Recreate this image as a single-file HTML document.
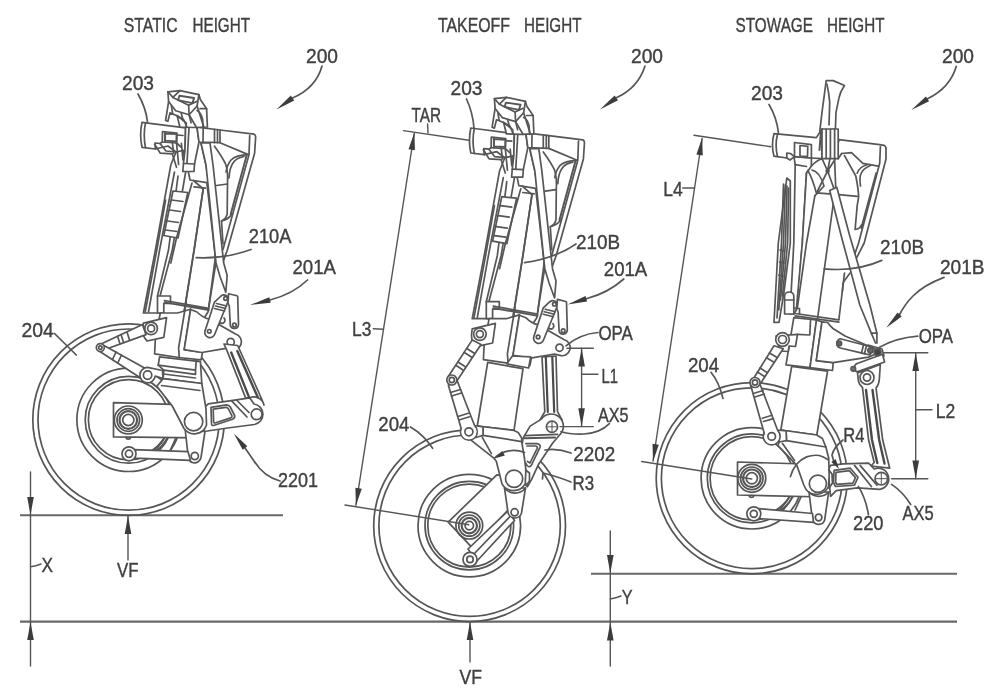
<!DOCTYPE html>
<html>
<head>
<meta charset="utf-8">
<title>Landing gear heights</title>
<style>
html,body{margin:0;padding:0;background:#fff;}
body{width:995px;height:696px;overflow:hidden;font-family:"Liberation Sans",sans-serif;}
svg{display:block;will-change:transform;opacity:0.999;}
text{font-family:"Liberation Sans",sans-serif;font-size:21px;fill:#404040;stroke:#404040;stroke-width:0.4;}
.l{fill:none;stroke:#565656;stroke-width:1.7;stroke-linecap:round;stroke-linejoin:round;}
.t{fill:none;stroke:#444;stroke-width:0.9;stroke-linecap:round;stroke-linejoin:round;}
.g{fill:none;stroke:#686868;stroke-width:2.1;}
.w{fill:#fff;stroke:#565656;stroke-width:1.7;stroke-linejoin:round;}
.a{fill:#3c3c3c;stroke:none;}
#dims.l{stroke-width:1.4;}
</style>
</head>
<body>
<svg width="995" height="696" viewBox="0 0 995 696">
<rect x="0" y="0" width="995" height="696" fill="#fff"/>
<defs>
<!-- Upper strut shared by STATIC and TAKEOFF views (coords in left-figure space) -->
<g id="U">
<!-- left slender arms -->
<path class="w" d="M170.8 165 L176 152 L183 150 L186 170 L172.3 250 L160.3 295 L160.3 313 L143.4 313 L155.4 250 Z"/>
<path class="l" d="M174.5 172 L159.6 250 L148.5 312"/>
<path class="l" d="M165.6 200 L156.8 250 L145.2 312"/>
<path class="l" d="M224.3 167.5 Q226.8 176 226.4 186" style="stroke-width:2.4;stroke:#555"/>
<path class="l" d="M178 176 L168.5 250 L157.5 296"/>
<!-- main cylinder body -->
<path class="w" d="M193.4 180.5 L206.8 182.6 L216 262 L208 312 L184 349 L178 349 L194.1 250 L203.2 189 Z"/>
<path class="l" d="M194 186.8 L205.4 188.2"/>
<path class="l" d="M203.2 189 L194.1 250 L178.6 348"/>
<path class="l" d="M190.6 309.2 L184.2 348"/>
<path class="l" d="M215.2 258.5 L208.9 306.3"/>
<!-- ladder / rack -->
<path class="w" d="M173 191 L187.8 192.5 L178 238 L163.8 235.5 Z"/>
<path class="l" d="M171.5 200 L183 201.5 M169.5 210 L180.5 211.5 M167.5 221 L178.5 222.5 M165.5 230 L177 231.5"/>
<path class="l" d="M192 183 L176.5 238 L170.8 263"/>
<path class="l" d="M188 170 L190 180 L193.4 180.5"/>
<!-- triangular side brace -->
<path class="w" d="M220 130 L254 134.2 Q256 135 255.6 138 L254.6 153.2 L227.5 249.5 L223 262 L216 262 L210 190 L206 165 L201 143 Z"/>
<path class="l" d="M249.7 135.5 L249 154.6 L223 249.5"/>
<path class="l" d="M246.5 156 L230.7 214.3" style="stroke-width:2"/>
<path class="l" d="M220 142.7 L248.3 154.6"/>
<path class="l" d="M214.5 146.2 Q223 158 225.8 164.5 Q228.2 172 227.5 184 L227.2 214 Q226 219 221.5 221"/>
<path class="l" d="M248.3 154.6 Q236 155 231 160 Q227 165 226 172"/>
<path class="l" d="M244 156.5 Q236 158 233 163 Q229.5 168 229 178"/>
<path class="l" d="M231.5 214.5 Q229 219 221.5 221 L223 244"/>
<path class="l" d="M227.3 184 L216.5 185.5"/>
<!-- rod 210 -->
<path class="w" d="M201 143 L210 143 L213 165 L223.7 263 L227.2 275.4 L225.8 292.3 L220.1 276.8 L216 263 L206 165 Z"/>
<!-- cylinder 203 -->
<path class="w" d="M142 122.3 L185.6 127.9 L185 150 L176 152 L168 146 L155.4 149 L142 147.3 Q139.3 135 142 122.3 Z"/>
<path class="l" d="M145.5 122.8 Q143 135 145.5 147.7"/>
<path class="l" d="M155.4 149 L155 143 L160 143.5 L166 151 L176 152"/>
<path class="l" d="M162.5 131.5 L162.3 142 L176.5 143 L177 133 Z"/>
<path class="l" d="M165 132 L165 142 M177 135 L183 135.5 M176.5 143 L181 147"/>
<path class="l" d="M160 143.5 L162.3 142"/>
<path class="l" d="M154.6 144.1 L160.3 153.2 L172.3 153.9 L176.5 167.3 M172.3 142 L173.7 153.2 M176.5 142.7 L178.6 164.5 M181.4 143.4 L183 160"/>
<path class="l" d="M165.2 133.5 L176.5 134.2 L176.5 141.3 L165.2 140.6 Z" style="stroke-width:1.8"/>
<!-- lug -->
<path class="w" d="M185.6 127 L197 127.2 L199 142 L194.5 164 L194 171.5 L182.8 171.5 L183.5 163 L185 150 Z"/>
<path class="l" d="M183.5 163.5 L194.5 164"/>
<path class="l" d="M189 128 L187 163"/>
<!-- pin -->
<path class="w" d="M197 127.2 L220 130 L220 142.7 L199 142 Z"/>
<path class="l" d="M203.2 128 L203 142 M214.5 129.3 L214.5 142.5 M217.5 129.7 L217.5 142.6"/>
<!-- cross rod and block -->
<path class="w" d="M157.5 296 L170.5 296 L170.5 303.5 L163.8 303.5 L163.8 313 L157.5 313 Z"/>
<path class="l" d="M164.5 300.5 L208.9 308.3 M164.5 302.4 L208.9 310.2"/>
<!-- housing -->
<path class="w" d="M160.3 313 L177.5 313 L190.6 309.2 L184.2 349.7 L202.5 352.4 L201.1 359.8 L178.8 357.5 L154.6 353.9 L155.4 338.5 Z"/>
<path class="l" d="M186.2 302 L178.6 348 L179.3 357.5"/>
<!-- torque link bracket -->
<path class="w" d="M143.4 323.2 L166.6 317.6 L163.8 337.3 L147 341 Q141 336 143.4 323.2 Z"/>
<circle class="w" cx="151.1" cy="328.4" r="6.3"/><circle class="l" cx="151.1" cy="328.4" r="3.5"/>
<!-- bracket w/ OPA pivot -->
<path class="w" d="M190.6 309.5 L197 312 Q203 318 209 319 L221.5 326 L235.5 334 A7.7 7.7 0 0 1 231 349.7 L225.8 348.3 L201.8 352.5 L184.2 349.7 Z"/>
<circle class="l" cx="230.7" cy="342" r="3.6"/>
<!-- link A (201) -->
<path class="w" d="M214.5 302.1 L221 296 A5 5 0 0 1 229 300 L227.2 303.5 L214.8 334 A4.6 4.6 0 0 1 205 331 Z"/>
<path class="l" d="M216.5 303.5 L226.5 306 M215.5 306 L225.5 308.5 M214.5 308.5 L224.5 311"/>
<circle class="l" cx="209.3" cy="331.3" r="1.8"/>
<circle class="l" cx="225.6" cy="298.5" r="1.8"/>
<!-- link B -->
<path class="w" d="M228.6 293.7 L237 295.8 L237.7 296.5 L238.5 324.6 A4.2 4.2 0 0 1 230.3 325.5 L229.3 306.3 L228 303 Z"/>
<circle class="l" cx="234.4" cy="325" r="1.8"/>
<path class="l" d="M224 318 A3 3 0 1 1 220 322.5"/>
</g>
<g id="UT">
<!-- top bracket -->
<path class="w" d="M167.3 91.3 L179.3 90.1 L198.3 94.1 L199.7 99 L206 108.2 L206.8 126.5 L193 127 L179.3 126.5 L176.5 115.2 L169.4 112.4 L167.3 120.8 L165 120 L168 101.1 Z"/>
<path class="l" d="M167.3 91.3 L172.3 96.9 L188 104.8 L196 101"/>
<path class="l" d="M168 101.1 L175.1 110.3 L188.5 114.3 L196.5 105.5 L198.3 94.1"/>
<path class="l" d="M172.3 96.9 L179.3 90.1 M188 104.8 L188.5 114.3 L190.5 122.3"/>
<path class="l" d="M178.8 95.3 L193.5 97.5 L191.8 102.6 L177.5 99.6 Z" style="stroke-width:1.9"/>
<path class="l" d="M176.5 115.2 L183 119 L186 126"/>
<path class="l" d="M196.5 110 Q200.5 112 202 119 L202.5 127"/>
<path class="l" d="M176.5 115.2 L185.6 122.3 L185.6 126.5 M188.5 114.3 L196 127.2 M199.5 108.2 L206 108.2 M196.5 105.5 L203.2 126.5"/>
<path class="l" d="M170.8 105.4 L172 112.8 M180.5 112.3 L182.5 120"/>
</g>
</defs>
<g id="all">



<!-- ===== GROUND LINES ===== -->
<g class="g">
<line x1="20" y1="515.3" x2="283" y2="515.3"/>
<line x1="20" y1="621.6" x2="957" y2="621.6"/>
<line x1="591" y1="573.8" x2="957" y2="573.8"/>
</g>

<!-- ===== WHEELS ===== -->
<g id="wheels" class="l">
<!-- left -->
<circle cx="128.6" cy="419.6" r="95.8"/><circle cx="128.6" cy="419.6" r="90.6"/>
<!-- middle -->
<circle cx="469.6" cy="525.7" r="95.9"/><circle cx="469.6" cy="525.7" r="90.7"/>
<!-- right -->
<circle cx="751.8" cy="478.2" r="95.6"/><circle cx="751.8" cy="478.2" r="90.4"/>
</g>

<!-- ===== LEFT FIGURE ===== -->
<use href="#U"/>
<use href="#UT" transform="translate(0.6 0.5)"/>
<g id="figL" class="l">
<!-- rim -->
<circle cx="128.6" cy="419.8" r="51.7"/><circle cx="128.6" cy="419.8" r="43.4"/><circle cx="128.6" cy="419.8" r="40.2"/>
<!-- hoses -->
<path d="M165 437 Q158 447 151 451 M168 437 Q161 449 153 453 M176 437.5 L170 451"/>
<!-- trailing arm -->
<path class="w" d="M113.5 402.7 L180 404.7 L200 437.8 L113.5 436.9 Z"/>
<circle cx="128.3" cy="420" r="14"/><circle cx="128.3" cy="420" r="11.3"/><circle cx="128.3" cy="420" r="8.8" style="stroke-width:2.2"/><circle cx="128.3" cy="420" r="5.6"/>
<path d="M125.8 437.2 A2.6 2.6 0 0 0 130.8 437.2"/>
<!-- lower lug -->
<path class="w" d="M185 428 L188 455 A6.6 6.6 0 0 0 201 457.5 L205.5 428 Z"/>
<!-- brake rod -->
<path class="w" d="M134 449.6 L188 451.7 L190.5 460.3 L134.5 458.2 Z"/>
<circle class="w" cx="129" cy="453.8" r="7"/><circle cx="129" cy="453.8" r="3.6"/>
<circle cx="194.8" cy="456" r="3.6"/>
<!-- crank 2201 -->
<path class="w" d="M203 409 L208.2 403.8 L231.4 400.6 L249.7 397.8 L254 404 A10.4 10.4 0 0 1 254.5 424.5 L227.5 428 L204 431.5 Z"/>
<path d="M211 407.3 L226.5 404.9 Q229 405 230.3 407 L234.6 415.5 Q235.3 418 232.5 419.3 L213.5 425.5 Q211.5 425.6 211.5 423.5 Z"/>
<path d="M213.2 409.2 L225.8 407.3 Q227.5 407.2 228.4 408.8 L232 415.8 Q232.3 417.3 230.7 417.9 L215 423 Q213.6 423.1 213.6 421.6 Z"/>
<path d="M231.4 400.6 L247 417 M236.5 400 L249 412.5"/>
<!-- pushrod -->
<path class="w" d="M227.2 351.1 L224 344 L237.7 345.5 L261.7 399 L264 405 A10.4 10.4 0 0 0 249.7 397.8 L245.5 397.6 Z"/>
<path d="M231.2 352.5 L249.2 397.6 M237.3 351 L257.8 397.3" style="stroke-width:2.4;stroke:#4a4a4a"/>
<circle class="w" cx="256.6" cy="414.3" r="5.4"/>
<!-- collars -->
<path class="w" d="M159.6 356.8 L200.4 361.7 L201.8 383.5 L163.1 378.6 L163.8 370.1 L158.2 365.2 Z"/>
<path d="M158.2 365.2 L195.5 370.1 L196.2 361.7 M163.8 370.1 L195.5 374.3 L195.5 370.1 M163.4 374 L195.5 378"/>
<!-- fork -->
<path class="w" d="M163.1 378.6 L156.8 386.3 L172.3 406 L184 428.5 A12.8 12.8 0 0 0 206.5 425 L206 408.9 L201.8 383.5 Z"/>
<path d="M161.5 385.5 L200 390.5"/>
<circle class="w" cx="193.6" cy="421.6" r="9.2"/>
<!-- torque link -->
<path class="w" d="M100.5 344.2 L142.5 324.6 L146 334.6 L103 350.3 Z"/>
<path d="M117.5 336.3 L120 343.8 M121 334.6 L123.6 342.4 M127 332 L129.6 340.2"/>
<path class="w" d="M104 345.5 L145 368.2 L141 378.3 L99.5 351.2 Z"/>
<path d="M116 352 L112.5 359.5 M121.5 355 L117.8 363"/>
<circle class="w" cx="100.3" cy="347.6" r="4"/><circle cx="100.3" cy="347.6" r="1.7"/>
<path class="w" d="M147.6 367.4 A7.7 7.7 0 1 0 155.2 376 L163 378.6 L162.5 370.5 Z"/>
<circle cx="147.6" cy="375.1" r="4.2"/>
<!-- leaders -->
<path d="M138 94 Q146 108 147.5 122"/>
<path d="M251 249.5 Q225 259 196.2 257.7"/>
<path d="M54.5 333.5 L76.3 355"/>
<path d="M322 66 Q316 88 292.5 98"/>
<path d="M307.5 280 Q293 294 270 300"/>
<path d="M280 481 Q264 477 254 461 L245 448"/>
</g>

<!-- ===== MIDDLE FIGURE ===== -->
<use href="#U" transform="translate(328.8 5.7)"/>
<use href="#UT" transform="translate(327.1 7.3)"/>
<g id="figM" class="l">
<!-- rim -->
<circle cx="469.3" cy="525.6" r="51.3"/><circle cx="469.3" cy="525.6" r="44.3"/><circle cx="469.3" cy="525.6" r="41.5"/>
<!-- trailing arm -->
<path class="w" d="M496.8 474.9 L448.2 522.1 L471.4 546.8 L479.9 540.4 L522 495 L520 478 Z"/>
<circle cx="469.3" cy="525.6" r="13.4"/><circle cx="469.3" cy="525.6" r="10.6"/><circle cx="469.3" cy="525.6" r="7.7" style="stroke-width:2.2"/><circle cx="469.3" cy="525.6" r="4.2"/>
<!-- brake rod -->
<path class="w" d="M508 510.8 L468 549 L476.5 561.5 L514.5 520.5 Z"/>
<path d="M511 515.5 L472.5 555.5"/>
<circle class="w" cx="470" cy="559.4" r="7"/><circle cx="470" cy="559.4" r="3.2"/>
<!-- lug -->
<path class="w" d="M504.5 488 L507.8 511 A7 7 0 0 0 521.5 513 L525.5 488 Z"/>
<circle cx="514.6" cy="512.3" r="3.6"/>
<!-- pushrod -->
<path class="w" d="M542 356.8 L556 356 L557.5 411.7 L562 420 L540 420 L544.8 411.7 Z"/>
<path d="M545.8 357 L547.8 412 M552.3 357 L554.2 412" style="stroke-width:2.2;stroke:#4a4a4a"/>
<!-- crank 2202 -->
<path class="w" d="M523.1 438.1 L530.1 426.1 L541.4 419.1 A10.6 10.6 0 0 1 561.1 433.2 L552.7 443 L538.6 464.2 L531.5 479.6 L527.3 486.7 L518 470 Z"/>
<path d="M524.5 435.7 L557.6 434.3"/><path d="M524.5 438.3 L555 437.6" style="stroke-width:2"/>
<path d="M525.9 443.7 L537.2 443.7 Q541 444.5 540 447.3 L531.5 465 Q529.5 468 527 465.5 L525.5 463"/>
<path d="M527 446 L535.8 446 Q537.8 446.4 537.2 448.3 L530 463 L527.5 461.5"/>
<circle class="w" cx="552" cy="426.8" r="5.6"/><path class="t" d="M547.5 426.8 L556.5 426.8 M552 422.3 L552 431.3"/>
<!-- piston -->
<path class="w" d="M487.7 362.4 L523 368.7 L514 430.4 L477.3 426 Z"/>
<path class="w" d="M506.8 363.8 L528.6 368 L530.7 356.8 L512.4 356 Z"/>
<!-- collar + fork -->
<path class="w" d="M477.3 426 L514 430.4 L518.2 432.5 L521.7 438 L521.7 441.6 L524.5 458.5 L525.9 469.8 L525.2 483.9 A13.4 13.4 0 0 1 502 483.9 L496.3 461.3 L493.5 457.8 L471 440.2 L476 436 Z"/>
<path d="M483 435.3 L521.7 441.6 M483 427 L483 435.3 L476 436"/>
<path d="M482.3 437.4 L491.4 453.6"/>
<path d="M494.5 458 A28.5 28.5 0 0 1 524.5 452.5"/>
<circle class="w" cx="514.1" cy="478.7" r="8.6"/>
<path d="M504.5 488 A13.4 13.4 0 0 0 525.5 488"/>
<path d="M525.5 470 L529.5 473 L529.5 481 L526 485.5"/>
<!-- torque link -->
<path class="w" d="M472.3 339.9 L448.3 376.5 L456.5 381.5 L481 344.5 Z"/>
<path d="M466.8 348.5 L474.3 353.3 M464.3 352.5 L471.8 357.3 M458 362 L465.3 366.8 M455.8 365.3 L463 370"/>
<path class="w" d="M474 425.5 L483 427 L483 435.3 L476 437.5 Z"/>
<circle class="w" cx="468.9" cy="431.8" r="8.4"/>
<path class="w" d="M448.3 385 L461.8 430.5 L475.3 427.5 L457.5 381.5 Z"/>
<circle cx="468.9" cy="431.8" r="7.5" style="fill:#fff;stroke:none"/>
<path d="M450.5 392.5 L460.5 389.5 M451.5 396 L461.5 393 M458 416.5 L468.3 413.3 M459 420 L469.5 416.8"/>
<circle class="w" cx="451.8" cy="380" r="5"/><circle cx="451.8" cy="380" r="2.6"/>

<circle cx="468.9" cy="431.8" r="4"/>
<!-- leaders -->
<path d="M466.5 99 Q473 113 474 128.5"/>
<path d="M576 244 Q556 258 524.5 262.7"/>
<path d="M410.5 427 Q424 435 432.6 448.3"/>
<path d="M645 66 Q638 88 616.3 97.8"/>
<path d="M623.8 279 Q608 293 586.3 298.8"/>
<path d="M598 332.5 Q580 334 566 345.8"/>
<path d="M609.4 423.6 Q600 433 584 434 Q570 434.5 561 431.7"/>
<path d="M571 453 Q558 448 545 450"/>
<path d="M571 482 Q556 476 543 473 L542.5 479"/>
</g>

<!-- ===== RIGHT FIGURE ===== -->
<g id="figR" class="l">
<!-- rim -->
<circle cx="751.8" cy="478.3" r="50.7"/><circle cx="751.8" cy="478.3" r="44.5"/><circle cx="751.8" cy="478.3" r="41.7"/>
<!-- hoses -->
<path d="M790 496.5 Q783 506 776 510 M793 496.5 Q786 508 778 512 M801 497 L795 510"/>
<!-- trailing arm -->
<path class="w" d="M737.5 462 L805 464 L825 497 L737.5 495 Z"/>
<circle cx="751.8" cy="478.3" r="14"/><circle cx="751.8" cy="478.3" r="11.3"/><circle cx="751.8" cy="478.3" r="8.8" style="stroke-width:2.2"/><circle cx="751.8" cy="478.3" r="5.6"/>
<path d="M749 495.5 A2.6 2.6 0 0 0 754 495.5"/>
<!-- lug -->
<path class="w" d="M809 492 L812.3 518.9 A6.4 6.4 0 0 0 824.6 520.3 L828.7 492 Z"/>
<!-- brake rod -->
<path class="w" d="M759 508.7 L812.5 513.5 L813.5 522.3 L759.5 518.6 Z"/>
<circle class="w" cx="753.8" cy="513.8" r="7"/><circle cx="753.8" cy="513.8" r="3.5"/>
<circle cx="818.6" cy="517.5" r="3.3"/>
<!-- ===== upper strut (stowage) ===== -->
<!-- edge-on ladder -->
<path class="w" d="M786.8 178 L790.3 181 L790.3 243 L784 292 L779 322.3 L774 322.3 L778.3 243 Z"/>
<path d="M783.5 184 L781.5 243 L777 318 M787 186 L785.5 243 L780.5 300"/>
<path d="M780 250 L784.5 251 M779.5 262 L784 263 M778.8 275 L783.3 276"/>
<path d="M785.3 185 L783.5 243 L778.8 310 M788.6 188 L787.6 243 L782.5 296"/>
<circle cx="827.6" cy="171" r="2.2" style="fill:#444;stroke:none"/>
<!-- left leg -->
<path class="w" d="M794 156.6 L811.4 158 L811.4 166 L806.5 173.2 L802.3 243 L797.3 308.2 L793.8 314 L790 314 L793.8 243 L795.2 164.7 Z"/>
<path d="M795.2 164.7 L806.5 166.5"/>
<!-- main cylinder -->
<path d="M806.5 173.2 L807.9 170.4 Q813 180 816.3 192.9 L836 194.3 L848 235 L877 333 L838.9 319.8 L810 367.7 L797.3 308.2 Z" style="fill:#fff;stroke:none"/>
<path d="M806.5 173.2 L807.9 170.4 Q813 180 816.3 192.9 L836 194.3"/>
<path d="M814.9 195.7 L806.5 243 L797.3 308.2"/>
<path d="M806.5 173.2 L802.3 243 L796.3 310"/>
<path d="M817.7 192.9 L814.9 195.7 M834.3 196 L829 235 L815.6 333"/>
<path d="M844.5 273 L838.9 319.5"/>
<path d="M850.1 273 Q844 281 843.1 283 L842.4 291.3"/>
<!-- brace -->
<path class="w" d="M838.9 139.7 L879.7 144.6 L884 145.3 Q886.3 146.3 886 150 L886 159 L864.2 243 L856.5 258 L850 258 L836 194.3 L834.6 160 Z"/>
<path d="M880.4 146.5 L879.7 163.3 L858.6 243 L854.5 255"/>
<path d="M876.2 173.2 L861.4 228.1" style="stroke-width:2"/>
<path d="M841.7 153.5 L851.5 152.7 L862.8 163.3 L878.3 166.1"/>
<path d="M844.5 155.6 L855.8 176 Q858.6 190 858.6 197.1 L857.2 205.6 L855.1 229.5 Q860 229 861.4 225"/>
<path d="M867 164.7 Q859 167 857.2 173.2 M870.5 165.5 Q862 168.5 860.2 176 Q859.5 180 860.5 186"/>
<path d="M836 194.3 L857.2 196.4"/>
<path d="M838.2 158.7 L841.7 153.5 M827.6 171 L836 194.3 M827.6 171 L817 192 M827.6 171 L834.6 160 M827.6 171 L822 158.7 M827.6 171 L830 158.7"/>
<path d="M811.4 166 Q817 160 822 158.7 M812 170 Q820 172 824 186 L817.7 192.9"/>
<!-- rod 210B -->
<path class="w" d="M829.7 190.5 L836.8 187.3 L849.5 235 L869.9 305 L876.9 333.2 L876.9 343 L875.5 343 L871.3 333.2 L859.8 305 L841 235 Z"/>
<path d="M871.3 333.2 L876.9 333.2"/>
<!-- blade -->
<path class="w" d="M826.2 80.6 L833.2 80.6 L844.5 85.5 Q840 92 838.9 98.2 L836 112.3 L835.4 129 L819.8 131 L822 112.3 Z"/>
<path d="M826.9 84 Q829 93 829.7 102.4 L829 124.9"/>
<!-- cylinder 203 -->
<path class="w" d="M774 133.7 L816.3 137.6 L822 129 L822 158.7 L811.4 158 L794.5 156.6 L790 160 L786.8 158 L774 156.2 Q771 145 774 133.7 Z"/>
<path d="M777.5 134.2 Q774.7 145 777.5 156.6"/>
<path d="M794.5 142.5 L811.4 144.6 L811.4 158 M794.5 142.5 L794.5 156.6 M800 145.5 L800 156 L807.5 156.5 L807.8 146.3 Z"/>
<path d="M786.8 158 L786.8 153 L790.5 153.5 L794.5 156.6"/>
<!-- lug -->
<path class="w" d="M822 129 L838.2 129 L838.2 158.7 L822 158.7 Z"/>
<path d="M826.2 129.5 L826.2 158.5 M830.4 129.5 L830.4 158.5 M834.6 129.5 L834.6 158.5"/>
<path d="M821 131 L819.5 150" style="stroke-width:2"/>
<!-- small bracket + cross rod -->
<path class="w" d="M784.6 314 L784.6 296 Q785 292 789 292 Q793.5 292 793.8 296 L793.8 314 Z"/>
<path d="M784.6 300 L793.8 300"/>
<path d="M795.2 313.5 L838.9 319.8 M795.2 315.8 L838.9 322.1"/>
<path d="M794 308 L799.5 308.5 L799.5 313.5"/>
<!-- housing -->
<path class="w" d="M793.8 317.7 L816.5 320 L810 367.7 L786 364.9 Z"/>
<path class="w" d="M816.5 320 L822 321.9 L816.3 360.6 L833.2 362.7 L832.5 370.5 L810 367.7 Z"/>
<path d="M810.5 320.5 L809.8 335 L797.5 334.3"/>
<!-- torque bracket -->
<path class="w" d="M776 336 L797.5 334.3 L795.5 346.5 L789 346 L788.3 351.5 L780 351 Z"/>
<!-- bracket (OPA) -->
<path class="w" d="M822 321.9 L827.6 322.5 Q830 326 833 328.5 L845 336 L858 341.5 L873 348 L880.5 352 L868.5 357.1 L855.8 359.2 L833.2 362.7 L816.3 360.6 Z"/>
<!-- link A -->
<path class="w" d="M840.3 338.8 L867 345.8 L873 347.5 L870 355 L864.2 353.6 L840.3 348 A4.8 4.8 0 0 1 840.3 338.8 Z"/>
<circle cx="839.3" cy="343.5" r="2.3" style="fill:#666"/>
<path d="M863.5 345 L861.5 353 M866.5 345.7 L864.5 353.7" />
<!-- link B -->
<path class="w" d="M857.2 363.5 L882.5 354.3 L884.6 362 L857.2 371.9 A4.5 4.5 0 0 1 857.2 363.5 Z"/>
<circle cx="853.3" cy="368.8" r="2.3" style="fill:#777"/>
<circle cx="877.6" cy="352.2" r="3.4" style="fill:#444"/>
<circle cx="870.5" cy="350.5" r="2.6" style="fill:#666"/>
<path d="M868 345 L882 349 L884 356"/>
<!-- pushrod -->
<path class="w" d="M857.5 373 L858.5 381.5 Q859.5 385 862.5 387.5 L868.6 440 L874.2 462.5 L871 466 L889.7 468.2 L882.7 440 L876 388 Q878.8 385 879.3 379.5 L880.3 364.5 Z"/>
<path d="M866 390 L872 440 L877.3 463 M872.5 390 L879.2 440 L884.5 463.5" style="stroke-width:2.4;stroke:#4a4a4a"/>
<circle cx="867" cy="377.5" r="7"/><circle cx="867" cy="377.5" r="3.6"/>
<!-- crank 220 -->
<path class="w" d="M828 470 L830.6 465.4 L843.2 463.9 L868.6 463.2 L874.2 469 A10.6 10.6 0 1 1 879.9 489.3 L857.3 487.9 L836.2 490.7 L830.6 496.3 Z"/>
<path d="M834.1 470.3 L850.3 468.2 L858 477.3 L854.5 485.1 L835.5 486.5 L833.4 482.3 Z"/>
<path d="M836 472.3 L849.3 470.6 L855.4 477.6 L853 483.1 L836.8 484.3 L835.6 482 Z"/>
<path d="M854.5 465.4 L871.4 486.5 M860.1 465.4 L877 485.1"/>
<circle class="w" cx="881.3" cy="478.7" r="6.3"/><path class="t" d="M876 478.7 L886.6 478.7 M881.3 473.4 L881.3 484"/>
<!-- piston -->
<path class="w" d="M791.7 366.3 L827.6 371.2 L816.8 435 L780.8 430 Z"/>
<!-- collar + fork -->
<path class="w" d="M780.8 430 L816.8 435 L822.4 438.5 L825.9 447 L828.7 458.2 L829.2 475.2 L828.5 486.5 A13.4 13.4 0 0 1 806 489.5 L803.8 485 L796.8 465.4 L778 445.6 L780 439 Z"/>
<path d="M786.5 440.6 L825.9 447 M786.1 431 L786.5 440.6 L780 439"/>
<path d="M782.5 443.5 L794.5 460.5"/>
<path d="M790.4 476.6 Q792 470 796.8 464 Q801 459.3 806.6 456.9 Q813 454.6 819.3 455.5 Q823 456.5 827.8 459.5"/>
<circle class="w" cx="817.9" cy="483.7" r="8.6"/>
<path d="M809 492 A13.4 13.4 0 0 0 828.7 492"/>
<path d="M828.8 470 L832 474 L832.5 483 L829 488" style="stroke-width:1.8"/>
<!-- torque link -->
<path class="w" d="M774 345.8 L752 381 L759.5 385 L783.2 348.7 Z"/>
<path d="M769.5 353 L777 357.5 M766.5 357.8 L774 362.3 M760 368 L767 372.5 M757.5 372 L764.5 376.5"/>
<path class="w" d="M777 430 L786.1 431 L786.5 440.6 L779 442 Z"/>
<circle class="w" cx="771.7" cy="436.4" r="8.4"/>
<path class="w" d="M750.6 385 L764.6 434.5 L778.3 432 L759.7 383.5 Z"/>
<circle cx="771.7" cy="436.4" r="7.5" style="fill:#fff;stroke:none"/>
<path d="M753.5 393.5 L763 390.5 M754.8 397 L764.3 394 M762.3 418.3 L772 415.3 M763.5 421.5 L773.3 418.6"/>
<circle class="w" cx="755" cy="382.5" r="5"/><circle cx="755" cy="382.5" r="2.6"/>

<circle cx="771.7" cy="436.4" r="3.8"/>
<circle class="w" cx="782.5" cy="339.5" r="6.8"/><circle cx="782.5" cy="339.5" r="4"/>
<!-- leaders -->
<path d="M769 104.5 Q777 118 778.5 133.5"/>
<path d="M881.8 260.4 Q856 272 824.1 268.8"/>
<path d="M711 372.3 Q719 382 723 398.5"/>
<path d="M956.3 66.3 Q950 88 927.5 98.8"/>
<path d="M944 277.4 Q924 285 913 296 Q905 304 899.6 314.5"/>
<path d="M917.7 336.2 Q896 338 879.5 347.3"/>
<path d="M910.7 504.5 Q903 492 891.6 484.4"/>
<path d="M868.4 514.6 Q866 499 858.4 486.4"/>
<path d="M843 440 Q834 447 832 455 L833.5 460.5"/>
</g>

<!-- ===== DIMENSIONS ===== -->
<g id="dims" class="l">
<!-- X -->
<line x1="30.5" y1="472" x2="30.5" y2="666"/>
<path d="M30.5 566.7 Q36 566 41 564"/>
<!-- VF left -->
<line x1="128" y1="516" x2="128" y2="560"/>
<!-- VF middle -->
<line x1="470" y1="622" x2="470" y2="662"/>
<!-- Y -->
<line x1="610.3" y1="531" x2="610.3" y2="666"/>
<path d="M610.3 599 Q616 598 621 596"/>
<!-- L3 -->
<line x1="403.4" y1="130.6" x2="468.8" y2="140.2"/>
<line x1="414.3" y1="133" x2="355.9" y2="505.2"/>
<line x1="345" y1="505" x2="468.8" y2="524.7"/>
<path d="M427.6 124 L428 133"/>
<path d="M373.3 328.7 L383.3 329.2"/>
<!-- L1 -->
<line x1="581.6" y1="348.2" x2="581.6" y2="426.6"/>
<line x1="567" y1="348.2" x2="593.3" y2="348.2"/>
<line x1="560" y1="426.6" x2="593.3" y2="426.6"/>
<line x1="581.6" y1="374.3" x2="598" y2="374.3"/>
<!-- L4 -->
<line x1="694" y1="135.2" x2="770.8" y2="146.7"/>
<line x1="702.1" y1="138.5" x2="653" y2="461"/>
<line x1="641.7" y1="461.5" x2="751.8" y2="479"/>
<line x1="682.7" y1="188" x2="694" y2="188"/>
<!-- L2 -->
<line x1="915.7" y1="352.7" x2="915.7" y2="478.8"/>
<line x1="883.5" y1="352.7" x2="927.8" y2="352.7"/>
<line x1="891.6" y1="478.8" x2="927.8" y2="478.8"/>
<line x1="915.7" y1="409.7" x2="932" y2="409.7"/>
</g>
<g id="arrows" class="a">
<!-- X arrows -->
<path d="M30.5 515 L27.2 497 L33.8 497 Z"/>
<path d="M30.5 622 L27.2 640 L33.8 640 Z"/>
<!-- VF arrows -->
<path d="M128 516 L124.7 534 L131.3 534 Z"/>
<path d="M470 622 L466.7 640 L473.3 640 Z"/>
<!-- Y arrows -->
<path d="M610.3 573.5 L607 555 L613.6 555 Z"/>
<path d="M610.3 622 L607 640.5 L613.6 640.5 Z"/>
<!-- L1 arrows -->
<path d="M581.6 348.2 L578.3 366.5 L584.9 366.5 Z"/>
<path d="M581.6 426.6 L578.3 408.3 L584.9 408.3 Z"/>
<!-- L2 arrows -->
<path d="M915.7 352.7 L912.4 371 L919 371 Z"/>
<path d="M915.7 478.8 L912.4 460.5 L919 460.5 Z"/>
<!-- L3 arrows -->
<path d="M414.4 132.4 L408.5 149.2 L414.9 150.2 Z"/>
<path d="M355.9 505.6 L361.8 488.8 L355.4 487.8 Z"/>
<!-- L4 arrows -->
<path d="M702.2 137.8 L696.4 154.6 L702.7 155.6 Z"/>
<path d="M653.0 461.5 L658.8 444.7 L652.5 443.7 Z"/>
<!-- leader arrows -->
<path d="M276.5 109.5 L294.2 100.4 L290.8 95.6 Z"/>
<path d="M600.0 109.5 L618.0 100.2 L614.6 95.4 Z"/>
<path d="M911.3 110.0 L929.1 101.2 L925.9 96.4 Z"/>
<path d="M250.0 305.0 L270.7 302.8 L269.3 297.2 Z"/>
<path d="M567.5 304.5 L587.1 301.6 L585.5 296.0 Z"/>
<path d="M886.3 327.8 L901.7 316.6 L897.5 312.4 Z"/>
<path d="M233.8 433.5 L242.7 449.8 L247.3 446.2 Z"/>
<path d="M495.3 458.3 L504.9 455.4 L502.1 451.0 Z"/>
<path d="M839.0 469.0 L835.7 459.1 L831.3 461.9 Z"/>
</g>

<!-- ===== TEXT ===== -->
<g id="labels">
<text x="123.8" y="32" textLength="53.8" lengthAdjust="spacingAndGlyphs">STATIC</text>
<text x="192.5" y="32" textLength="57.5" lengthAdjust="spacingAndGlyphs">HEIGHT</text>
<text x="438" y="32" textLength="72" lengthAdjust="spacingAndGlyphs">TAKEOFF</text>
<text x="524" y="32" textLength="57.5" lengthAdjust="spacingAndGlyphs">HEIGHT</text>
<text x="735.5" y="32" textLength="77.5" lengthAdjust="spacingAndGlyphs">STOWAGE</text>
<text x="827" y="32" textLength="57.5" lengthAdjust="spacingAndGlyphs">HEIGHT</text>

<text x="306" y="63" textLength="32" lengthAdjust="spacingAndGlyphs">200</text>
<text x="631" y="63" textLength="32" lengthAdjust="spacingAndGlyphs">200</text>
<text x="942" y="63" textLength="32" lengthAdjust="spacingAndGlyphs">200</text>

<text x="122" y="89.5" textLength="32" lengthAdjust="spacingAndGlyphs">203</text>
<text x="450.5" y="94.5" textLength="32" lengthAdjust="spacingAndGlyphs">203</text>
<text x="751" y="99.5" textLength="32" lengthAdjust="spacingAndGlyphs">203</text>

<text x="411.5" y="122.3" textLength="29.5" lengthAdjust="spacingAndGlyphs">TAR</text>
<text x="248.8" y="243" textLength="42.5" lengthAdjust="spacingAndGlyphs">210A</text>
<text x="292.5" y="273.8" textLength="43.5" lengthAdjust="spacingAndGlyphs">201A</text>
<text x="21.5" y="337" textLength="32.3" lengthAdjust="spacingAndGlyphs">204</text>
<text x="278" y="487" textLength="40" lengthAdjust="spacingAndGlyphs">2201</text>
<text x="41.5" y="571.6" textLength="11.5" lengthAdjust="spacingAndGlyphs">X</text>
<text x="117" y="577" textLength="21.5" lengthAdjust="spacingAndGlyphs">VF</text>

<text x="576" y="248.8" textLength="44" lengthAdjust="spacingAndGlyphs">210B</text>
<text x="603.8" y="276" textLength="43.5" lengthAdjust="spacingAndGlyphs">201A</text>
<text x="598.4" y="339.8" textLength="34.5" lengthAdjust="spacingAndGlyphs">OPA</text>
<text x="352" y="336.2" textLength="19.3" lengthAdjust="spacingAndGlyphs">L3</text>
<text x="601.4" y="382.8" textLength="16.5" lengthAdjust="spacingAndGlyphs">L1</text>
<text x="598" y="421.5" textLength="30.5" lengthAdjust="spacingAndGlyphs">AX5</text>
<text x="573.2" y="461" textLength="42" lengthAdjust="spacingAndGlyphs">2202</text>
<text x="572.5" y="490" textLength="21.5" lengthAdjust="spacingAndGlyphs">R3</text>
<text x="378.3" y="431.3" textLength="31" lengthAdjust="spacingAndGlyphs">204</text>
<text x="459.5" y="683.5" textLength="22.5" lengthAdjust="spacingAndGlyphs">VF</text>
<text x="621.8" y="604.2" textLength="10.8" lengthAdjust="spacingAndGlyphs">Y</text>

<text x="663.2" y="195.8" textLength="19.5" lengthAdjust="spacingAndGlyphs">L4</text>
<text x="880" y="253.8" textLength="44" lengthAdjust="spacingAndGlyphs">210B</text>
<text x="940" y="274" textLength="44.5" lengthAdjust="spacingAndGlyphs">201B</text>
<text x="918.7" y="342.5" textLength="34.3" lengthAdjust="spacingAndGlyphs">OPA</text>
<text x="935.8" y="418.3" textLength="19.5" lengthAdjust="spacingAndGlyphs">L2</text>
<text x="843.3" y="442" textLength="21.2" lengthAdjust="spacingAndGlyphs">R4</text>
<text x="853" y="530.3" textLength="30.5" lengthAdjust="spacingAndGlyphs">220</text>
<text x="902.6" y="520.3" textLength="31.2" lengthAdjust="spacingAndGlyphs">AX5</text>
<text x="687.9" y="372" textLength="31.2" lengthAdjust="spacingAndGlyphs">204</text>
</g>

</g>
</svg>
</body>
</html>
